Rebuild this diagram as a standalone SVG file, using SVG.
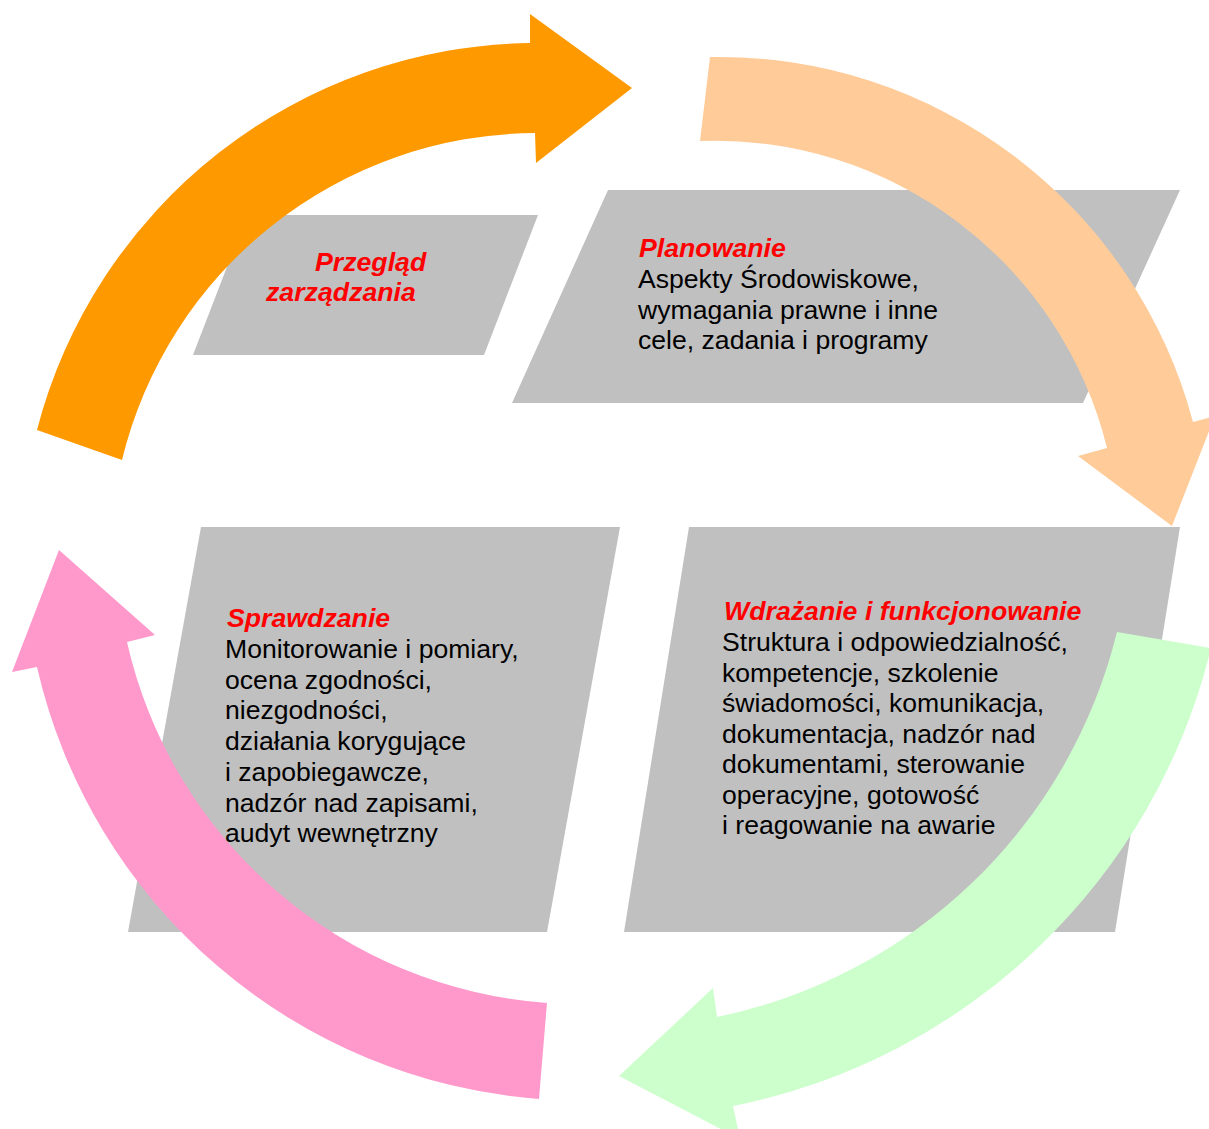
<svg xmlns="http://www.w3.org/2000/svg" width="1209" height="1129" viewBox="0 0 1209 1129">
  <defs>
    <style>
      .box { fill: #c0c0c0; }
      .title { font-family: "Liberation Sans", Arial, sans-serif; font-size: 26.7px; font-weight: bold; font-style: italic; fill: #ff0000; }
      .body { font-family: "Liberation Sans", Arial, sans-serif; font-size: 26.6px; fill: #000000; }
      .arrow { stroke: none; }
    </style>
  </defs>
  <rect width="1209" height="1129" fill="#ffffff"/>

  <!-- phase panels -->
  <g id="node-przeglad">
    <polygon class="box" points="247,215 538,215 484,355 193,355"/>
  </g>
  <g id="node-planowanie">
    <polygon class="box" points="608,190 1180,190 1083,403 512,403"/>
  </g>
  <g id="node-sprawdzanie">
    <polygon class="box" points="201,527 620,527 547,932 128,932"/>
  </g>
  <g id="node-wdrazanie">
    <polygon class="box" points="689,527 1180,527 1115,932 624,932"/>
  </g>

  <!-- cycle arrows -->
  <g id="connectors">
    <path class="arrow" fill="#ff9900" d="M37,430 A517,517 0 0 1 530,43 L530,14 L632,88 L536,163 L535,133 A428,428 0 0 0 122,460 Z"/>
    <path class="arrow" fill="#ffcc99" d="M710,57 A491,491 0 0 1 1193,422 L1215,416 L1172,526 L1078,456 L1107,448 A404,404 0 0 0 700,141 Z"/>
    <path class="arrow" fill="#ccffcc" d="M1117,632 L1211,648 A615,615 0 0 1 733,1106 L740,1139 L619,1076 L713,988 L717,1017 A520,520 0 0 0 1117,632 Z"/>
    <path class="arrow" fill="#ff99cc" d="M547,1003 L539,1099 A558,558 0 0 1 37,667 L12,672 L59,550 L155,635 L127,642 A465,465 0 0 0 547,1003 Z"/>
  </g>

  <!-- panel labels -->
  <g id="label-przeglad">
    <text class="title" x="315" y="271">Przegląd</text>
    <text class="title" x="266" y="301">zarządzania</text>
  </g>
  <g id="label-planowanie">
    <text class="title" x="639" y="257">Planowanie</text>
    <text class="body" x="638" y="288">Aspekty Środowiskowe,</text>
    <text class="body" x="638" y="319">wymagania prawne i inne</text>
    <text class="body" x="638" y="349">cele, zadania i programy</text>
  </g>
  <g id="label-sprawdzanie">
    <text class="title" x="227" y="627">Sprawdzanie</text>
    <text class="body" x="225" y="658">Monitorowanie i pomiary,</text>
    <text class="body" x="225" y="689">ocena zgodności,</text>
    <text class="body" x="225" y="719">niezgodności,</text>
    <text class="body" x="225" y="750">działania korygujące</text>
    <text class="body" x="225" y="781">i zapobiegawcze,</text>
    <text class="body" x="225" y="812">nadzór nad zapisami,</text>
    <text class="body" x="225" y="842">audyt wewnętrzny</text>
  </g>
  <g id="label-wdrazanie">
    <text class="title" x="724" y="620">Wdrażanie i funkcjonowanie</text>
    <text class="body" x="722" y="651">Struktura i odpowiedzialność,</text>
    <text class="body" x="722" y="682">kompetencje, szkolenie</text>
    <text class="body" x="722" y="712">świadomości, komunikacja,</text>
    <text class="body" x="722" y="743">dokumentacja, nadzór nad</text>
    <text class="body" x="722" y="773">dokumentami, sterowanie</text>
    <text class="body" x="722" y="804">operacyjne, gotowość</text>
    <text class="body" x="722" y="834">i reagowanie na awarie</text>
  </g>
</svg>
